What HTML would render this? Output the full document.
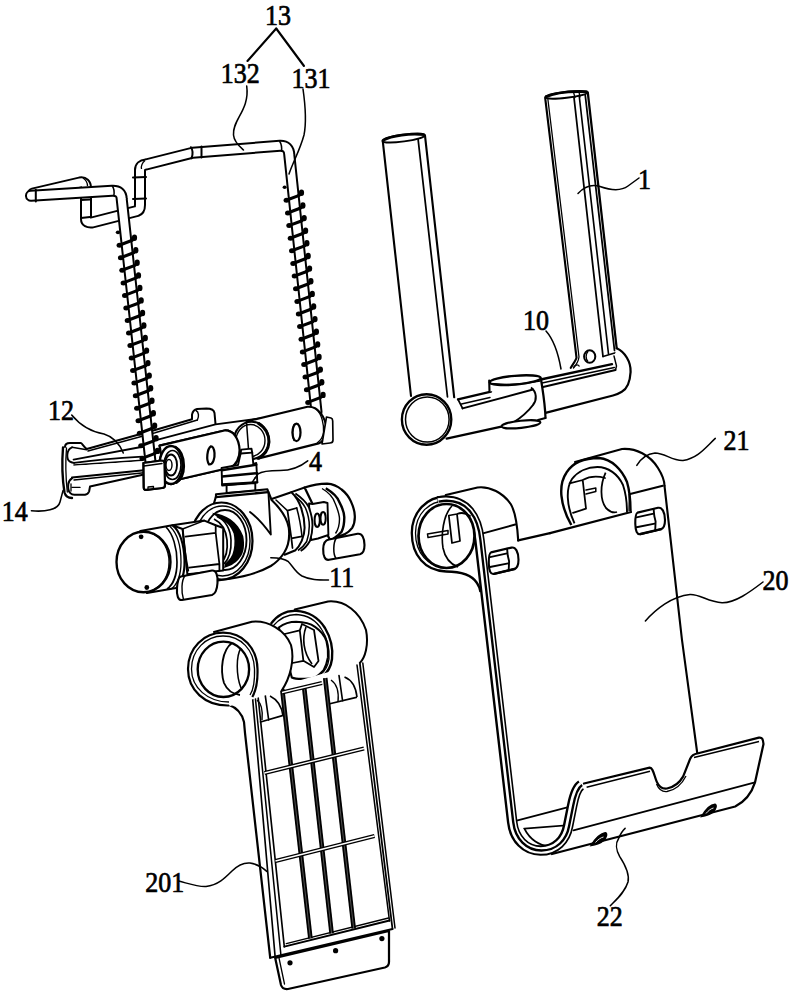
<!DOCTYPE html>
<html><head><meta charset="utf-8"><style>
html,body{margin:0;padding:0;background:#fff;width:795px;height:1000px;overflow:hidden}
svg{display:block}
</style></head><body>
<svg width="795" height="1000" viewBox="0 0 795 1000">
<rect width="795" height="1000" fill="#fff"/>
<path d="M64 446 L70 443 L80.7 443 L86.7 449 L155 430 L192 419.2 L192 414.6 C193 410 195 409.3 197 409 L206.4 408.6 C211 408.6 214 410 214.5 413 L215.5 424 L260 418.4 L262 424 L165 450 L73 462 L66 456 Z" fill="#fff" stroke="none"/>
<path d="M65 447 C65 444 67 443 70 443 L80.7 443 C82 443 83 446 86.7 449 L155 430 L192 419.2 L192 414.6 C193 410 195 409.3 197 409 L206.4 408.6 C211 408.6 214 410 214.5 413 L215.5 424" fill="none" stroke="#000" stroke-width="2.01" stroke-linecap="round" stroke-linejoin="round" />
<path d="M88 451 L155.1 432.7 L197.4 420" fill="none" stroke="#000" stroke-width="1.42" stroke-linecap="round" stroke-linejoin="round" />
<path d="M155.1 440.3 L215.5 424.4 L260 418.4" fill="none" stroke="#000" stroke-width="1.89" stroke-linecap="round" stroke-linejoin="round" />
<path d="M196 410.5 C199 412 199 417 197.4 420" fill="none" stroke="#000" stroke-width="1.42" stroke-linecap="round" stroke-linejoin="round" />
<path d="M72 447.3 C69 448.5 67.5 451 67.3 455 C67.2 458.5 68 460.5 70 461.6 C71.5 462.5 72.5 462.9 74 462.9" fill="none" stroke="#000" stroke-width="1.89" stroke-linecap="round" stroke-linejoin="round" />
<path d="M72 447.3 L86.7 449.8" fill="none" stroke="#000" stroke-width="1.42" stroke-linecap="round" stroke-linejoin="round" />
<path d="M73.6 459.6 L142.5 446.8" fill="none" stroke="#000" stroke-width="1.89" stroke-linecap="round" stroke-linejoin="round" />
<path d="M74 462.9 C95 460 120 458 142.5 456.6" fill="none" stroke="#000" stroke-width="1.89" stroke-linecap="round" stroke-linejoin="round" />
<path d="M74 465 L142.5 460.4" fill="none" stroke="#000" stroke-width="1.65" stroke-linecap="round" stroke-linejoin="round" />
<path d="M62 466 L72 466 L144 461 L144 474 L98 488 L90 495 L72 498 C66 497 64 494 64 490 Z" fill="#fff" stroke="none"/>
<path d="M63 447.5 C62 460 62.5 480 64.5 492.5 C65.5 496 68 498 72 498" fill="none" stroke="#000" stroke-width="2.36" stroke-linecap="round" stroke-linejoin="round" />
<path d="M66.5 448 C65.5 460 66 480 67.3 492" fill="none" stroke="#000" stroke-width="1.3" stroke-linecap="round" stroke-linejoin="round" />
<path d="M72 477.6 L144 470.2" fill="none" stroke="#000" stroke-width="2.01" stroke-linecap="round" stroke-linejoin="round" />
<path d="M74 480 L144 472.8" fill="none" stroke="#000" stroke-width="1.42" stroke-linecap="round" stroke-linejoin="round" />
<path d="M72 478.4 C70 479.5 68.7 481.7 68.3 484 C67.8 488 68.5 491.5 70.3 493.1 C71.5 494.3 73 494.8 74.4 494.8 L85 494.8 C87 494.5 88.5 493 89.1 491.5 L90 486.6 L144 474.5" fill="none" stroke="#000" stroke-width="2.01" stroke-linecap="round" stroke-linejoin="round" />
<path d="M72 487.4 L80 487.4" fill="none" stroke="#000" stroke-width="1.42" stroke-linecap="round" stroke-linejoin="round" />
<path d="M71 484 L71 491" fill="none" stroke="#000" stroke-width="1.3" stroke-linecap="round" stroke-linejoin="round" />
<path d="M33 193.5 L80 182.5 Q86 181.5 86 188 L86 219 Q86 223 92 222.5 L137 211 Q140 210 140 205 L140 170 Q140 165 146 164.5 L192.7 152.7 L280 145.8 Q289 145.5 289.3 155 L316.5 412" fill="none" stroke="#000" stroke-width="12.0" stroke-linecap="round" stroke-linejoin="round"/>
<path d="M33 193.5 L80 182.5 Q86 181.5 86 188 L86 219 Q86 223 92 222.5 L137 211 Q140 210 140 205 L140 170 Q140 165 146 164.5 L192.7 152.7 L280 145.8 Q289 145.5 289.3 155 L316.5 412" fill="none" stroke="#fff" stroke-width="8.0" stroke-linecap="round" stroke-linejoin="round"/>
<path d="M191 147.2 Q194 152 191.5 158.3" fill="none" stroke="#000" stroke-width="2.01" stroke-linecap="round" stroke-linejoin="round" />
<path d="M201.5 146.5 L201.5 157.5" fill="none" stroke="#000" stroke-width="2.01" stroke-linecap="round" stroke-linejoin="round" />
<path d="M133 177.5 L146 177" fill="none" stroke="#000" stroke-width="2.01" stroke-linecap="round" stroke-linejoin="round" />
<path d="M133 199 L146 198.5" fill="none" stroke="#000" stroke-width="2.01" stroke-linecap="round" stroke-linejoin="round" />
<path d="M81 200 L90 199.5" fill="none" stroke="#000" stroke-width="2.01" stroke-linecap="round" stroke-linejoin="round" />
<path d="M81 218 L90 217" fill="none" stroke="#000" stroke-width="2.01" stroke-linecap="round" stroke-linejoin="round" />
<path d="M31 195.8 L112 190.8 Q121.5 190.3 121.7 199 L150.5 462" fill="none" stroke="#000" stroke-width="12.0" stroke-linecap="round" stroke-linejoin="round"/>
<path d="M31 195.8 L112 190.8 Q121.5 190.3 121.7 199 L150.5 462" fill="none" stroke="#fff" stroke-width="8.0" stroke-linecap="round" stroke-linejoin="round"/>
<path d="M35.8 189.8 L35.8 201.6" fill="none" stroke="#000" stroke-width="2.01" stroke-linecap="round" stroke-linejoin="round" />
<path d="M279.5 141 C281.5 144 282 148 281.5 152" fill="none" stroke="#000" stroke-width="1.53"/>
<path d="M112 185.5 C114 188 114.5 192 113.8 196" fill="none" stroke="#000" stroke-width="1.53"/>
<path d="M145 160.5 C142 163 141 166 141.5 169" fill="none" stroke="#000" stroke-width="1.3"/>
<path d="M83 178 C86 180 87.5 183 87.5 186" fill="none" stroke="#000" stroke-width="1.3"/>
<path d="M159.6 445.6 L224.5 430.5 C233 430 239 438 239.6 450 C239.8 458 236 465 230.6 467.5 L165.7 482.5 Z" fill="#fff" stroke="#000" stroke-width="2.24" stroke-linejoin="round"/>
<path d="M211 446.3 C207 449 206 460 209 464.4 C213 465 215 458 214.5 453 C214 448 213 446.3 211 446.3 Z" fill="#fff" stroke="#000" stroke-width="2.24"/>
<ellipse cx="171" cy="465" rx="11.5" ry="19" fill="#fff" stroke="#000" stroke-width="2.36"/>
<ellipse cx="172.5" cy="465" rx="8.5" ry="14.5" fill="none" stroke="#000" stroke-width="1.65"/>
<ellipse cx="171" cy="465" rx="6" ry="10.5" fill="none" stroke="#000" stroke-width="1.89"/>
<ellipse cx="169" cy="465" rx="3" ry="5.5" fill="none" stroke="#000" stroke-width="1.42"/>
<path d="M175 446.5 C181 450 184 458 184 466 C184 474 181 480 176 483" fill="none" stroke="#000" stroke-width="2.2"/>
<path d="M119.2 245.2 L132.3 240.3" stroke="#000" stroke-width="3.1" stroke-linecap="round"/>
<ellipse cx="119.5" cy="245.2" rx="2.9" ry="2.5" fill="#000"/>
<ellipse cx="134.5" cy="237.8" rx="2.6" ry="3.2" fill="#000"/>
<path d="M131.3 240.3 L134.4 238.8" stroke="#000" stroke-width="2.6" stroke-linecap="round"/>
<path d="M120.5 257.8 L133.6 252.8" stroke="#000" stroke-width="3.1" stroke-linecap="round"/>
<ellipse cx="120.8" cy="257.8" rx="2.9" ry="2.5" fill="#000"/>
<ellipse cx="135.8" cy="250.3" rx="2.6" ry="3.2" fill="#000"/>
<path d="M132.6 252.8 L135.7 251.3" stroke="#000" stroke-width="2.6" stroke-linecap="round"/>
<path d="M121.9 270.3 L135.0 265.4" stroke="#000" stroke-width="3.1" stroke-linecap="round"/>
<ellipse cx="122.2" cy="270.3" rx="2.9" ry="2.5" fill="#000"/>
<ellipse cx="137.2" cy="262.8" rx="2.6" ry="3.2" fill="#000"/>
<path d="M134.0 265.4 L137.1 263.8" stroke="#000" stroke-width="2.6" stroke-linecap="round"/>
<path d="M123.2 282.9 L136.3 277.9" stroke="#000" stroke-width="3.1" stroke-linecap="round"/>
<ellipse cx="123.5" cy="282.9" rx="2.9" ry="2.5" fill="#000"/>
<ellipse cx="138.5" cy="275.4" rx="2.6" ry="3.2" fill="#000"/>
<path d="M135.3 277.9 L138.4 276.4" stroke="#000" stroke-width="2.6" stroke-linecap="round"/>
<path d="M124.6 295.4 L137.7 290.4" stroke="#000" stroke-width="3.1" stroke-linecap="round"/>
<ellipse cx="124.9" cy="295.4" rx="2.9" ry="2.5" fill="#000"/>
<ellipse cx="139.9" cy="287.9" rx="2.6" ry="3.2" fill="#000"/>
<path d="M136.7 290.4 L139.8 288.9" stroke="#000" stroke-width="2.6" stroke-linecap="round"/>
<path d="M125.9 307.9 L139.0 303.0" stroke="#000" stroke-width="3.1" stroke-linecap="round"/>
<ellipse cx="126.2" cy="307.9" rx="2.9" ry="2.5" fill="#000"/>
<ellipse cx="141.2" cy="300.4" rx="2.6" ry="3.2" fill="#000"/>
<path d="M138.0 303.0 L141.1 301.4" stroke="#000" stroke-width="2.6" stroke-linecap="round"/>
<path d="M127.3 320.5 L140.4 315.5" stroke="#000" stroke-width="3.1" stroke-linecap="round"/>
<ellipse cx="127.6" cy="320.5" rx="2.9" ry="2.5" fill="#000"/>
<ellipse cx="142.6" cy="313.0" rx="2.6" ry="3.2" fill="#000"/>
<path d="M139.4 315.5 L142.5 314.0" stroke="#000" stroke-width="2.6" stroke-linecap="round"/>
<path d="M128.6 333.0 L141.7 328.0" stroke="#000" stroke-width="3.1" stroke-linecap="round"/>
<ellipse cx="128.9" cy="333.0" rx="2.9" ry="2.5" fill="#000"/>
<ellipse cx="143.9" cy="325.5" rx="2.6" ry="3.2" fill="#000"/>
<path d="M140.7 328.0 L143.8 326.5" stroke="#000" stroke-width="2.6" stroke-linecap="round"/>
<path d="M130.0 345.5 L143.1 340.6" stroke="#000" stroke-width="3.1" stroke-linecap="round"/>
<ellipse cx="130.3" cy="345.5" rx="2.9" ry="2.5" fill="#000"/>
<ellipse cx="145.3" cy="338.0" rx="2.6" ry="3.2" fill="#000"/>
<path d="M142.1 340.6 L145.2 339.0" stroke="#000" stroke-width="2.6" stroke-linecap="round"/>
<path d="M131.3 358.1 L144.4 353.1" stroke="#000" stroke-width="3.1" stroke-linecap="round"/>
<ellipse cx="131.6" cy="358.1" rx="2.9" ry="2.5" fill="#000"/>
<ellipse cx="146.6" cy="350.6" rx="2.6" ry="3.2" fill="#000"/>
<path d="M143.4 353.1 L146.5 351.6" stroke="#000" stroke-width="2.6" stroke-linecap="round"/>
<path d="M132.7 370.6 L145.8 365.7" stroke="#000" stroke-width="3.1" stroke-linecap="round"/>
<ellipse cx="133.0" cy="370.6" rx="2.9" ry="2.5" fill="#000"/>
<ellipse cx="148.0" cy="363.1" rx="2.6" ry="3.2" fill="#000"/>
<path d="M144.8 365.7 L147.9 364.1" stroke="#000" stroke-width="2.6" stroke-linecap="round"/>
<path d="M134.0 383.1 L147.1 378.2" stroke="#000" stroke-width="3.1" stroke-linecap="round"/>
<ellipse cx="134.3" cy="383.1" rx="2.9" ry="2.5" fill="#000"/>
<ellipse cx="149.3" cy="375.6" rx="2.6" ry="3.2" fill="#000"/>
<path d="M146.1 378.2 L149.2 376.6" stroke="#000" stroke-width="2.6" stroke-linecap="round"/>
<path d="M135.4 395.7 L148.5 390.7" stroke="#000" stroke-width="3.1" stroke-linecap="round"/>
<ellipse cx="135.7" cy="395.7" rx="2.9" ry="2.5" fill="#000"/>
<ellipse cx="150.7" cy="388.2" rx="2.6" ry="3.2" fill="#000"/>
<path d="M147.5 390.7 L150.6 389.2" stroke="#000" stroke-width="2.6" stroke-linecap="round"/>
<path d="M136.7 408.2 L149.8 403.3" stroke="#000" stroke-width="3.1" stroke-linecap="round"/>
<ellipse cx="137.0" cy="408.2" rx="2.9" ry="2.5" fill="#000"/>
<ellipse cx="152.0" cy="400.7" rx="2.6" ry="3.2" fill="#000"/>
<path d="M148.8 403.3 L151.9 401.7" stroke="#000" stroke-width="2.6" stroke-linecap="round"/>
<path d="M138.1 420.7 L151.2 415.8" stroke="#000" stroke-width="3.1" stroke-linecap="round"/>
<ellipse cx="138.4" cy="420.7" rx="2.9" ry="2.5" fill="#000"/>
<ellipse cx="153.4" cy="413.2" rx="2.6" ry="3.2" fill="#000"/>
<path d="M150.2 415.8 L153.3 414.2" stroke="#000" stroke-width="2.6" stroke-linecap="round"/>
<path d="M139.4 433.3 L152.5 428.3" stroke="#000" stroke-width="3.1" stroke-linecap="round"/>
<ellipse cx="139.7" cy="433.3" rx="2.9" ry="2.5" fill="#000"/>
<ellipse cx="154.7" cy="425.8" rx="2.6" ry="3.2" fill="#000"/>
<path d="M151.5 428.3 L154.6 426.8" stroke="#000" stroke-width="2.6" stroke-linecap="round"/>
<path d="M140.8 445.8 L153.9 440.9" stroke="#000" stroke-width="3.1" stroke-linecap="round"/>
<ellipse cx="141.1" cy="445.8" rx="2.9" ry="2.5" fill="#000"/>
<ellipse cx="156.1" cy="438.3" rx="2.6" ry="3.2" fill="#000"/>
<path d="M152.9 440.9 L156.0 439.3" stroke="#000" stroke-width="2.6" stroke-linecap="round"/>
<path d="M142.1 458.4 L155.2 453.4" stroke="#000" stroke-width="3.1" stroke-linecap="round"/>
<ellipse cx="142.4" cy="458.4" rx="2.9" ry="2.5" fill="#000"/>
<ellipse cx="157.4" cy="450.9" rx="2.6" ry="3.2" fill="#000"/>
<path d="M154.2 453.4 L157.3 451.9" stroke="#000" stroke-width="2.6" stroke-linecap="round"/>
<ellipse cx="118" cy="232.3" rx="2.2" ry="1.9" fill="#000"/>
<path d="M143.5 463 L161.5 460.5 C163.5 460.5 164.5 461.5 164.5 463.5 L165 485 C165 487 164 488 162 488 L146 489.8 C144.5 490 143.8 489 143.8 487.5 Z" fill="#fff" stroke="#000" stroke-width="2.24" stroke-linejoin="round"/>
<path d="M144 466 L162 463.5" fill="none" stroke="#000" stroke-width="1.42" stroke-linecap="round" stroke-linejoin="round" />
<path d="M148 489.5 L148 487 L153.5 486.5 L153.5 489" fill="none" stroke="#000" stroke-width="1.3" stroke-linecap="round" stroke-linejoin="round" />
<path d="M286.2 200.3 L299.3 195.4" stroke="#000" stroke-width="3.1" stroke-linecap="round"/>
<ellipse cx="286.5" cy="200.3" rx="2.9" ry="2.5" fill="#000"/>
<ellipse cx="301.5" cy="192.8" rx="2.6" ry="3.2" fill="#000"/>
<path d="M298.3 195.4 L301.4 193.8" stroke="#000" stroke-width="2.6" stroke-linecap="round"/>
<path d="M287.6 213.0 L300.7 208.0" stroke="#000" stroke-width="3.1" stroke-linecap="round"/>
<ellipse cx="287.9" cy="213.0" rx="2.9" ry="2.5" fill="#000"/>
<ellipse cx="302.9" cy="205.5" rx="2.6" ry="3.2" fill="#000"/>
<path d="M299.7 208.0 L302.8 206.5" stroke="#000" stroke-width="2.6" stroke-linecap="round"/>
<path d="M288.9 225.6 L302.0 220.7" stroke="#000" stroke-width="3.1" stroke-linecap="round"/>
<ellipse cx="289.2" cy="225.6" rx="2.9" ry="2.5" fill="#000"/>
<ellipse cx="304.2" cy="218.1" rx="2.6" ry="3.2" fill="#000"/>
<path d="M301.0 220.7 L304.1 219.1" stroke="#000" stroke-width="2.6" stroke-linecap="round"/>
<path d="M290.2 238.2 L303.4 233.3" stroke="#000" stroke-width="3.1" stroke-linecap="round"/>
<ellipse cx="290.6" cy="238.2" rx="2.9" ry="2.5" fill="#000"/>
<ellipse cx="305.6" cy="230.7" rx="2.6" ry="3.2" fill="#000"/>
<path d="M302.4 233.3 L305.4 231.7" stroke="#000" stroke-width="2.6" stroke-linecap="round"/>
<path d="M291.6 250.8 L304.7 245.9" stroke="#000" stroke-width="3.1" stroke-linecap="round"/>
<ellipse cx="291.9" cy="250.8" rx="2.9" ry="2.5" fill="#000"/>
<ellipse cx="306.9" cy="243.3" rx="2.6" ry="3.2" fill="#000"/>
<path d="M303.7 245.9 L306.8 244.3" stroke="#000" stroke-width="2.6" stroke-linecap="round"/>
<path d="M292.9 263.5 L306.1 258.5" stroke="#000" stroke-width="3.1" stroke-linecap="round"/>
<ellipse cx="293.2" cy="263.5" rx="2.9" ry="2.5" fill="#000"/>
<ellipse cx="308.2" cy="256.0" rx="2.6" ry="3.2" fill="#000"/>
<path d="M305.1 258.5 L308.1 257.0" stroke="#000" stroke-width="2.6" stroke-linecap="round"/>
<path d="M294.3 276.1 L307.4 271.2" stroke="#000" stroke-width="3.1" stroke-linecap="round"/>
<ellipse cx="294.6" cy="276.1" rx="2.9" ry="2.5" fill="#000"/>
<ellipse cx="309.6" cy="268.6" rx="2.6" ry="3.2" fill="#000"/>
<path d="M306.4 271.2 L309.5 269.6" stroke="#000" stroke-width="2.6" stroke-linecap="round"/>
<path d="M295.6 288.7 L308.8 283.8" stroke="#000" stroke-width="3.1" stroke-linecap="round"/>
<ellipse cx="295.9" cy="288.7" rx="2.9" ry="2.5" fill="#000"/>
<ellipse cx="310.9" cy="281.2" rx="2.6" ry="3.2" fill="#000"/>
<path d="M307.8 283.8 L310.8 282.2" stroke="#000" stroke-width="2.6" stroke-linecap="round"/>
<path d="M297.0 301.4 L310.1 296.4" stroke="#000" stroke-width="3.1" stroke-linecap="round"/>
<ellipse cx="297.3" cy="301.4" rx="2.9" ry="2.5" fill="#000"/>
<ellipse cx="312.3" cy="293.9" rx="2.6" ry="3.2" fill="#000"/>
<path d="M309.1 296.4 L312.2 294.9" stroke="#000" stroke-width="2.6" stroke-linecap="round"/>
<path d="M298.4 314.0 L311.5 309.0" stroke="#000" stroke-width="3.1" stroke-linecap="round"/>
<ellipse cx="298.7" cy="314.0" rx="2.9" ry="2.5" fill="#000"/>
<ellipse cx="313.7" cy="306.5" rx="2.6" ry="3.2" fill="#000"/>
<path d="M310.5 309.0 L313.6 307.5" stroke="#000" stroke-width="2.6" stroke-linecap="round"/>
<path d="M299.7 326.6 L312.8 321.7" stroke="#000" stroke-width="3.1" stroke-linecap="round"/>
<ellipse cx="300.0" cy="326.6" rx="2.9" ry="2.5" fill="#000"/>
<ellipse cx="315.0" cy="319.1" rx="2.6" ry="3.2" fill="#000"/>
<path d="M311.8 321.7 L314.9 320.1" stroke="#000" stroke-width="2.6" stroke-linecap="round"/>
<path d="M301.1 339.2 L314.2 334.3" stroke="#000" stroke-width="3.1" stroke-linecap="round"/>
<ellipse cx="301.4" cy="339.2" rx="2.9" ry="2.5" fill="#000"/>
<ellipse cx="316.4" cy="331.7" rx="2.6" ry="3.2" fill="#000"/>
<path d="M313.2 334.3 L316.2 332.7" stroke="#000" stroke-width="2.6" stroke-linecap="round"/>
<path d="M302.4 351.9 L315.5 346.9" stroke="#000" stroke-width="3.1" stroke-linecap="round"/>
<ellipse cx="302.7" cy="351.9" rx="2.9" ry="2.5" fill="#000"/>
<ellipse cx="317.7" cy="344.4" rx="2.6" ry="3.2" fill="#000"/>
<path d="M314.5 346.9 L317.6 345.4" stroke="#000" stroke-width="2.6" stroke-linecap="round"/>
<path d="M303.8 364.5 L316.9 359.5" stroke="#000" stroke-width="3.1" stroke-linecap="round"/>
<ellipse cx="304.1" cy="364.5" rx="2.9" ry="2.5" fill="#000"/>
<ellipse cx="319.1" cy="357.0" rx="2.6" ry="3.2" fill="#000"/>
<path d="M315.9 359.5 L318.9 358.0" stroke="#000" stroke-width="2.6" stroke-linecap="round"/>
<path d="M305.1 377.1 L318.2 372.2" stroke="#000" stroke-width="3.1" stroke-linecap="round"/>
<ellipse cx="305.4" cy="377.1" rx="2.9" ry="2.5" fill="#000"/>
<ellipse cx="320.4" cy="369.6" rx="2.6" ry="3.2" fill="#000"/>
<path d="M317.2 372.2 L320.3 370.6" stroke="#000" stroke-width="2.6" stroke-linecap="round"/>
<path d="M306.4 389.7 L319.6 384.8" stroke="#000" stroke-width="3.1" stroke-linecap="round"/>
<ellipse cx="306.8" cy="389.7" rx="2.9" ry="2.5" fill="#000"/>
<ellipse cx="321.8" cy="382.2" rx="2.6" ry="3.2" fill="#000"/>
<path d="M318.6 384.8 L321.6 383.2" stroke="#000" stroke-width="2.6" stroke-linecap="round"/>
<path d="M307.8 402.4 L320.9 397.4" stroke="#000" stroke-width="3.1" stroke-linecap="round"/>
<ellipse cx="308.1" cy="402.4" rx="2.9" ry="2.5" fill="#000"/>
<ellipse cx="323.1" cy="394.9" rx="2.6" ry="3.2" fill="#000"/>
<path d="M319.9 397.4 L323.0 395.9" stroke="#000" stroke-width="2.6" stroke-linecap="round"/>
<ellipse cx="284.6" cy="187.3" rx="2.0" ry="1.8" fill="#000"/>
<path d="M246.6 421.3 L307.5 406.8 C318 406 325 416 326.9 429.6 C327 436 323 442 318.6 443.4 L257.7 458.6 Z" fill="#fff" stroke="#000" stroke-width="2.12" stroke-linejoin="round"/>
<path d="M326.5 417 L331 418 C332.5 418.5 332.7 420 332.7 421 L333 440 C333 442 331.5 443 330 443 L322 444 Z" fill="#fff" stroke="#000" stroke-width="1.65" stroke-linejoin="round"/>
<path d="M316 409 C322 414 324 425 323.5 432 C323 437 320 441 317 443" fill="none" stroke="#000" stroke-width="1.3"/>
<ellipse cx="296.5" cy="432.4" rx="4" ry="8.8" fill="#fff" stroke="#000" stroke-width="2.24"/>
<path d="M294 424.5 C292 429 292 436 294 440.5" fill="none" stroke="#000" stroke-width="1.42" stroke-linecap="round" stroke-linejoin="round" />
<ellipse cx="251.5" cy="440.3" rx="17.5" ry="18.6" fill="#fff" stroke="#000" stroke-width="2.12"/>
<path d="M258 423 C266 428 269 436 269 442 C268.5 449 265 455 258 458.6" fill="none" stroke="#000" stroke-width="3.0"/>
<ellipse cx="250.5" cy="440.5" rx="14.5" ry="16" fill="none" stroke="#000" stroke-width="1.42"/>
<path d="M246.6 423.5 L248.5 449" fill="none" stroke="#000" stroke-width="1.53" stroke-linecap="round" stroke-linejoin="round" />
<path d="M159.6 445.6 L224.5 430.5 C233 430 239 438 239.6 450 C239.8 458 236 465 230.6 467.5 L165.7 482.5 Z" fill="#fff" stroke="#000" stroke-width="2.24" stroke-linejoin="round"/>
<path d="M211 446.3 C207 449 206 460 209 464.4 C213 465 215 458 214.5 453 C214 448 213 446.3 211 446.3 Z" fill="#fff" stroke="#000" stroke-width="2.24"/>
<ellipse cx="171" cy="465" rx="11.5" ry="19" fill="#fff" stroke="#000" stroke-width="2.36"/>
<ellipse cx="172.5" cy="465" rx="8.5" ry="14.5" fill="none" stroke="#000" stroke-width="1.65"/>
<ellipse cx="171" cy="465" rx="6" ry="10.5" fill="none" stroke="#000" stroke-width="1.89"/>
<ellipse cx="169" cy="465" rx="3" ry="5.5" fill="none" stroke="#000" stroke-width="1.42"/>
<path d="M175 446.5 C181 450 184 458 184 466 C184 474 181 480 176 483" fill="none" stroke="#000" stroke-width="2.2"/>
<path d="M143.5 463 L161.5 460.5 C163.5 460.5 164.5 461.5 164.5 463.5 L165 485 C165 487 164 488 162 488 L146 489.8 C144.5 490 143.8 489 143.8 487.5 Z" fill="#fff" stroke="#000" stroke-width="2.24" stroke-linejoin="round"/>
<path d="M144 466 L162 463.5" fill="none" stroke="#000" stroke-width="1.42" stroke-linecap="round" stroke-linejoin="round" />
<path d="M148 489.5 L148 487 L153.5 486.5 L153.5 489" fill="none" stroke="#000" stroke-width="1.3" stroke-linecap="round" stroke-linejoin="round" />
<path d="M226.6 485 L255.3 483 L255.3 491 L226.6 493 Z" fill="#fff" stroke="#000" stroke-width="1.89" stroke-linejoin="round"/>
<path d="M241.2 449.6 L251.5 448.6 L252.3 453.5 L253.3 464.2 L256.3 463 L257.3 482.3 L222.1 485.5 L221.6 468 L238 465 L240.5 454 Z" fill="#fff" stroke="#000" stroke-width="1.89" stroke-linejoin="round"/>
<path d="M240.8 453.5 L252.3 452.6" fill="none" stroke="#000" stroke-width="1.89" stroke-linecap="round" stroke-linejoin="round" />
<path d="M221.6 470.2 L256.3 464.7" fill="none" stroke="#000" stroke-width="2.4" stroke-linecap="round" stroke-linejoin="round" />
<path d="M222.1 476.5 L257.3 473.2" fill="none" stroke="#000" stroke-width="2.4" stroke-linecap="round" stroke-linejoin="round" />
<path d="M222.1 484.3 L257.3 482.3" fill="none" stroke="#000" stroke-width="2.2" stroke-linecap="round" stroke-linejoin="round" />
<path d="M255 478 L252.5 482" fill="none" stroke="#000" stroke-width="1.42" stroke-linecap="round" stroke-linejoin="round" />
<path d="M304.6 487.5 C312 485 320 483.6 327.1 483.6 C334 484 338 486.5 341.6 489.5 C346 493 349 497 350.9 501.4 C353 506 354.8 511 354.8 516 C355 521 354 525 352.2 527.8 C350 531 347 533 344.3 534.4 L330 540 Z" fill="#fff" stroke="#000" stroke-width="2.24" stroke-linejoin="round"/>
<path d="M325.8 488.2 C332 492 337 496 339 501.4 C342 507 344.3 512 344.3 517.3 C344.3 523 343.5 528 341.6 531.8 C339 535 336 537 333.7 538.4" fill="none" stroke="#000" stroke-width="2.4"/>
<path d="M322 488.5 C328 492 333 497 335 503 C337.5 509 339.5 514 339.5 519 C339.5 525 338 530 335.5 533.5" fill="none" stroke="#000" stroke-width="1.42"/>
<path d="M309 503.5 L312.5 504 L323.8 502 L327.5 503 L328.4 535 L318 538.5 L311 540 Z" fill="#fff" stroke="#000" stroke-width="1.89" stroke-linejoin="round"/>
<ellipse cx="317.2" cy="520.2" rx="2.6" ry="6.7" fill="#fff" stroke="#000" stroke-width="2.01"/>
<ellipse cx="323.1" cy="518.3" rx="2.6" ry="6.4" fill="#fff" stroke="#000" stroke-width="2.01"/>
<path d="M288 494 L295.4 493.5 C303 498 308 504 308.6 506.7 C311 513 312.5 519 312.5 525.2 C312.5 531 311.5 536 309.9 541 C307 546 304 549 300.7 551 L292 553 Z" fill="#fff" stroke="none"/>
<path d="M295.4 493.5 C302 498 306.5 503 308.6 506.7 C311 513 312.5 519 312.5 525.2 C312.5 531 311.5 536 309.9 541 C307 546 304 549 300.7 551" fill="none" stroke="#000" stroke-width="1.89"/>
<path d="M292.5 494.5 C299 499 303.5 504 305.5 508 C308 514 309.3 520 309.3 526 C309.3 532 308.3 537 306.7 541.5 C304 546 301 548.5 298 550.5" fill="none" stroke="#000" stroke-width="1.53"/>
<path d="M291.4 492.2 L304.6 487.5" fill="none" stroke="#000" stroke-width="1.89" stroke-linecap="round" stroke-linejoin="round" />
<path d="M271.6 499 L291.4 492.2 C300 500 304.6 515 304.6 527.8 C304.6 537 300 546 295.4 550.3 L282 556 L286 528 Z" fill="#fff" stroke="none"/>
<path d="M271.6 499 L291.4 492.2 C300 500 304.6 515 304.6 527.8 C304.6 537 300 546 295.4 550.3 L284 555" fill="none" stroke="#000" stroke-width="2.01"/>
<path d="M287.5 510.7 L296.7 508 M291.4 538.4 L302 536.4 M287.5 510.7 L291.4 538.4 L292.5 548" fill="none" stroke="#000" stroke-width="1.77" stroke-linecap="round" stroke-linejoin="round" />
<path d="M296.7 508 C299 516 301 527 302 536.4" fill="none" stroke="#000" stroke-width="1.53" stroke-linecap="round" stroke-linejoin="round" />
<path d="M276 500 L287.5 510.7" fill="none" stroke="#000" stroke-width="1.53" stroke-linecap="round" stroke-linejoin="round" />
<path d="M329 539.5 L357.5 533.8 C362 533 364.5 538 364.5 545 C364.5 550 363 553.5 360 554.2 L329 559.8 C325 560.5 323 556 323.2 549 C323.4 543 325.5 540 329 539.5 Z" fill="#fff" stroke="#000" stroke-width="2.12" stroke-linejoin="round"/>
<path d="M336.3 538 C333 543 333 554 336 558.5" fill="none" stroke="#000" stroke-width="1.53"/>
<path d="M216 496.2 L216 494.3 L267.4 489.3 L268.4 492 L271.6 500 C280 508 287 518 288.8 527.8 C290 538 288 547 284 553 C280 559 274 564 270.8 566 C262 571 248 576 230 578.7 L214 581 L200 550 L214 503.2 Z" fill="#fff" stroke="#000" stroke-width="2.12" stroke-linejoin="round"/>
<path d="M216 497.2 L268 492.2" fill="none" stroke="#000" stroke-width="2.36" stroke-linecap="round" stroke-linejoin="round" />
<path d="M268.4 492 L270.8 534.5 M250 512 C258 518 264 525 270.8 534.5" fill="none" stroke="#000" stroke-width="1.89" stroke-linecap="round" stroke-linejoin="round" />
<ellipse cx="221.5" cy="541" rx="31" ry="38.5" fill="#fff" stroke="#000" stroke-width="2.24"/>
<ellipse cx="222.5" cy="541" rx="27.5" ry="35" fill="none" stroke="#000" stroke-width="1.42"/>
<ellipse cx="225" cy="540" rx="21.5" ry="30" fill="#fff" stroke="#000" stroke-width="1.89"/>
<path d="M212 512.8 C226 514 238 522 243.2 536 C245 545 244 553 240 557.6 C237 562 232 566 224 568 L225 563.5 C229.5 560 232.5 556 233.6 550 C235 544 234.5 538 233.6 533.6 C231 526 226 521 219 518.4 Z" fill="#000"/>
<path d="M214 519 C222 523 226 530 227 540 C228 550 226 558 221 563" fill="none" stroke="#000" stroke-width="1.77"/>
<path d="M217 516.5 C226 520 230.5 530 231 540 C231.5 551 229 559 224 564" fill="none" stroke="#000" stroke-width="1.65"/>
<path d="M172.3 525.3 L204.3 520.6 L215.7 525.3 L223.2 528 L223.2 570.6 L187.4 574.3 L182.6 529 Z" fill="#fff" stroke="#000" stroke-width="2.01" stroke-linejoin="round"/>
<path d="M185.5 536.6 L215.7 532.8 M189.2 567.7 L219.4 564 M215.7 525.3 L215.7 532.8 L219.4 564 L219.4 570.8" fill="none" stroke="#000" stroke-width="1.77" stroke-linecap="round" stroke-linejoin="round" />
<path d="M182.6 529 C184 545 186 560 188.3 570.6" fill="none" stroke="#000" stroke-width="1.77" stroke-linecap="round" stroke-linejoin="round" />
<path d="M204.3 520.6 L182.6 529" fill="none" stroke="#000" stroke-width="1.42" stroke-linecap="round" stroke-linejoin="round" />
<path d="M140.2 531 L172.3 525.3 C180 530 184 545 184.5 560 C185 574 181 584 176 588 L147 593 Z" fill="#fff" stroke="#000" stroke-width="2.12" stroke-linejoin="round"/>
<path d="M166 527 C173 534 177 548 177 562 C177 575 173 585 167 589" fill="none" stroke="#000" stroke-width="1.65"/>
<path d="M170 526.5 C178 534 181 548 181 562 C181 575 177 585 171 589" fill="none" stroke="#000" stroke-width="1.3"/>
<ellipse cx="143.5" cy="562" rx="27" ry="30.2" fill="#fff" stroke="#000" stroke-width="2.36"/>
<path d="M152 533.5 C163 538 169 550 169 562 C169 575 163 586 152 590.5" fill="none" stroke="#000" stroke-width="1.3"/>
<circle cx="141.1" cy="536.8" r="2.4" fill="#000"/>
<circle cx="146.8" cy="587.5" r="2.4" fill="#000"/>
<path d="M181 576.5 L212 570.5 C216 570 218 575 217.5 583 C217 590 215 594 212 595 L182 600 C178 600.5 176.5 595 177 588 C177.5 581 178.5 577 181 576.5 Z" fill="#fff" stroke="#000" stroke-width="2.12" stroke-linejoin="round"/>
<path d="M185 575.8 C181.5 580 181 592 183.5 599.5" fill="none" stroke="#000" stroke-width="1.42"/>
<path d="M382.8 141.3 L411 398 L456 398 L425 135.7 Z" fill="#fff" stroke="none"/>
<path d="M382.8 141.3 L411 396" fill="none" stroke="#000" stroke-width="2.12" stroke-linecap="round" stroke-linejoin="round" />
<path d="M425 135.7 L454.2 397.3" fill="none" stroke="#000" stroke-width="2.12" stroke-linecap="round" stroke-linejoin="round" />
<path d="M418 138.5 L447.5 397" fill="none" stroke="#000" stroke-width="1.77" stroke-linecap="round" stroke-linejoin="round" />
<ellipse cx="403.7" cy="138" rx="21.5" ry="3.4" transform="rotate(-7.5 403.7 138)" fill="#fff" stroke="#000" stroke-width="1.89"/>
<path d="M383 140.5 C392 135 410 133.5 424.5 134.7" fill="none" stroke="#000" stroke-width="2.6"/>
<path d="M545.2 98 L574.5 364 L617 352 L587.3 92.5 Z" fill="#fff" stroke="none"/>
<path d="M545.2 98 L576.5 357.7 C576 360 573 364 570.8 367.8" fill="none" stroke="#000" stroke-width="2.12" stroke-linecap="round" stroke-linejoin="round" />
<path d="M547.8 98.5 L579 357 C578.5 361 576 365 573.5 368" fill="none" stroke="#000" stroke-width="1.3" stroke-linecap="round" stroke-linejoin="round" />
<path d="M573.6 94 L603 356.5" fill="none" stroke="#000" stroke-width="1.77" stroke-linecap="round" stroke-linejoin="round" />
<path d="M579 94 L608.5 354" fill="none" stroke="#000" stroke-width="1.65" stroke-linecap="round" stroke-linejoin="round" />
<path d="M585 93 L614.5 350.5" fill="none" stroke="#000" stroke-width="1.77" stroke-linecap="round" stroke-linejoin="round" />
<path d="M587.8 92.5 L616.7 348.3" fill="none" stroke="#000" stroke-width="2.24" stroke-linecap="round" stroke-linejoin="round" />
<path d="M603 356.5 L615.5 352.7" fill="none" stroke="#000" stroke-width="1.65" stroke-linecap="round" stroke-linejoin="round" />
<ellipse cx="566.3" cy="94.8" rx="21.3" ry="3" transform="rotate(-6.5 566.3 94.8)" fill="#fff" stroke="#000" stroke-width="1.89"/>
<path d="M545.5 97 C555 92.5 572 91 587.5 91.8" fill="none" stroke="#000" stroke-width="2.8"/>
<path d="M573.6 92.5 L575 97.5 M579 92 L580 97" fill="none" stroke="#000" stroke-width="1.3" stroke-linecap="round" stroke-linejoin="round" />
<path d="M431 395.5 L458 399.3 L612 364.2 L616.7 348.3 C625 352 631 362 630.6 372 C630 382 627 389 621.8 391.7 L446.6 438.6 Z" fill="#fff" stroke="none"/>
<path d="M616.7 348.3 C625 352 631 362 630.6 372 C630 382 627 389 621.8 391.7 C618 394 615 395 613 395.5 L545.5 412.8" fill="none" stroke="#000" stroke-width="2.24" stroke-linecap="round" stroke-linejoin="round" />
<path d="M501.4 426.7 L446.6 438.6" fill="none" stroke="#000" stroke-width="2.24" stroke-linecap="round" stroke-linejoin="round" />
<path d="M458 399.3 L491 391.6" fill="none" stroke="#000" stroke-width="2.4" stroke-linecap="round" stroke-linejoin="round" />
<path d="M540.7 379.5 L612 364.2" fill="none" stroke="#000" stroke-width="2.36" stroke-linecap="round" stroke-linejoin="round" />
<path d="M461.5 404 L490 397.5" fill="none" stroke="#000" stroke-width="1.53" stroke-linecap="round" stroke-linejoin="round" />
<path d="M542 383 L614.3 367.6" fill="none" stroke="#000" stroke-width="1.53" stroke-linecap="round" stroke-linejoin="round" />
<path d="M462.6 408.4 L533 389.5 M543 386.9 L615.5 370" fill="none" stroke="#000" stroke-width="2.01" stroke-linecap="round" stroke-linejoin="round" />
<path d="M458 399.3 L462.6 408.4" fill="none" stroke="#000" stroke-width="1.77" stroke-linecap="round" stroke-linejoin="round" />
<path d="M615.5 370 L616.5 366 L614 356" fill="none" stroke="#000" stroke-width="1.42" stroke-linecap="round" stroke-linejoin="round" />
<ellipse cx="589.7" cy="356.5" rx="5.6" ry="6.3" fill="#fff" stroke="#000" stroke-width="2.01"/>
<path d="M588 351.5 C585.5 354 585.5 359 588 361.5" fill="none" stroke="#000" stroke-width="1.3"/>
<path d="M573.5 367.5 C575 364.5 578 364 579.5 366.5" fill="none" stroke="#000" stroke-width="1.42"/>
<path d="M489 380 L489.5 391.6 L533 386 C537 394 536 402 529 411.6 C522 418 516 421 512.8 422.9 L520 428 L541 424 L545.5 418 C545 405 543 392 541 378 Z" fill="#fff" stroke="none"/>
<ellipse cx="515.2" cy="380.2" rx="25.6" ry="4.4" transform="rotate(-5 515.2 380.2)" fill="#fff" stroke="#000" stroke-width="2.36"/>
<path d="M490 383.5 C505 385 525 384 540 381" fill="none" stroke="#000" stroke-width="1.3" stroke-linecap="round" stroke-linejoin="round" />
<path d="M489.2 380.5 L489.5 391.5" fill="none" stroke="#000" stroke-width="2.12" stroke-linecap="round" stroke-linejoin="round" />
<path d="M541 379 C542.5 390 545 402 545.5 418" fill="none" stroke="#000" stroke-width="2.24" stroke-linecap="round" stroke-linejoin="round" />
<path d="M531 387.5 C537 392 537 400 533 405 C527 413 519 419 512.8 422.9" fill="none" stroke="#000" stroke-width="2.01"/>
<ellipse cx="521" cy="424.3" rx="19.5" ry="3.6" transform="rotate(-6 521 424.3)" fill="#fff" stroke="#000" stroke-width="2.12"/>
<path d="M538 420 L545.5 418" fill="none" stroke="#000" stroke-width="1.89" stroke-linecap="round" stroke-linejoin="round" />
<ellipse cx="426.6" cy="419.5" rx="24.7" ry="25.2" fill="#fff" stroke="#000" stroke-width="2.36"/>
<ellipse cx="427.3" cy="419.5" rx="21.8" ry="22.6" fill="none" stroke="#000" stroke-width="1.53"/>
<path d="M446 571.5 C462 571.5 472 575 477 583 C480 588 480.5 594 480.5 600 L487.5 640 L507.3 822 C510 840 522 852 540.8 855.7 C552 856 560 853 565 847 L746.6 804.5 C755 800 760 790 760 783 L762.4 741 C762 737 759 737 758.9 737.6 L697.3 753.5 L682 640 L664.5 485.8 L631 512 L571.3 525 L518.2 540.4 L480 545 Z" fill="#fff" stroke="none"/>
<path d="M664.5 485.8 L682 640 L697.3 753.5" fill="none" stroke="#000" stroke-width="2.12" stroke-linecap="round" stroke-linejoin="round" />
<path d="M575 462 L622 449 C636 448 650 455 658 468 C663 476 664.5 482 664.5 485.8 L630.1 494 L620 470 Z" fill="#fff"/>
<path d="M575 462 L622 449 C636 448 650 455 658 468 C663 476 664.5 482 664.5 485.8" fill="none" stroke="#000" stroke-width="2.12" stroke-linecap="round" stroke-linejoin="round" />
<path d="M630.1 494 L662.8 485.8" fill="none" stroke="#000" stroke-width="2.01" stroke-linecap="round" stroke-linejoin="round" />
<path d="M571.3 525 C560 505 558 485 566.4 472.7 C573 462 585 458 599 458 C612 459 622 470 627 482 C630 492 630.5 502 630.5 511" fill="#fff" stroke="#000" stroke-width="2.4"/>
<path d="M574.5 523.4 C566 505 566 488 572 479 C578 471 588 467 597.4 467 C608 467 618 474 623 485 C626 494 627 503 627 512" fill="#fff" stroke="#000" stroke-width="1.89"/>
<path d="M629 494 C629.5 500 628.8 506 629 511" fill="none" stroke="#000" stroke-width="1.18"/>
<path d="M550 533.2 L631 512" fill="none" stroke="#000" stroke-width="2.24" stroke-linecap="round" stroke-linejoin="round" />
<path d="M569.6 483.3 L582.7 480 L586 508.7 L573 512.8 M582.7 480 C590 476 598 476 605 478" fill="none" stroke="#000" stroke-width="1.77" stroke-linecap="round" stroke-linejoin="round" />
<path d="M586 490 L595.8 488 L595.8 491.5 L586 494" fill="none" stroke="#000" stroke-width="1.53" stroke-linecap="round" stroke-linejoin="round" />
<path d="M605.6 472.7 C600 485 600 500 606 508 C610 512 614 513 617 512" fill="none" stroke="#000" stroke-width="1.77"/>
<path d="M445.8 495 L477.5 487.5 C490 486 503 493 510.7 504 C515 511 517 520 518.2 540.4 L482 545 L470 510 Z" fill="#fff"/>
<path d="M445.8 495 L477.5 487.5 C490 486 503 493 510.7 504 C515 511 517 520 518.2 540.4" fill="none" stroke="#000" stroke-width="2.12" stroke-linecap="round" stroke-linejoin="round" />
<path d="M482 533.6 L515.2 524.5" fill="none" stroke="#000" stroke-width="2.01" stroke-linecap="round" stroke-linejoin="round" />
<path d="M518.2 540.4 L550 533.2" fill="none" stroke="#000" stroke-width="2.24" stroke-linecap="round" stroke-linejoin="round" />
<path d="M513.8 821.3 L570.2 806.6" fill="none" stroke="#000" stroke-width="1.77" stroke-linecap="round" stroke-linejoin="round" />
<path d="M524.4 828.7 L565.3 825.4 C563 835 558 843 549 845.9 C540 846 530 840 524.4 828.7 Z" fill="#fff" stroke="#000" stroke-width="1.77"/>
<path d="M584 783.5 L649.7 767.6 C653 767.5 654 775 656.7 781.6 C659 787 663 789 667 788.5 C675 787 680 782 683.2 776.4 L690.2 758.7 C692 755 694 754 697.3 753.5 L758.9 737.6 C762 737 763 739 763.5 744 L755 782.4 C752 792 746 801 735.2 806.5 L586.6 845 L556 853 C565 846 568 838 569 825 L573 805 C576 792 578 786 584 783.5 Z" fill="#fff" stroke="none"/>
<path d="M584 783.5 L649.7 767.6 C653 767.5 654 775 656.7 781.6 C659 787 663 789 667 788.5 C675 787 680 782 683.2 776.4 L690.2 758.7 C692 755 694 754 697.3 753.5 L758.9 737.6 C762 737 763 739 763.5 744 L755 782.4 C752 792 746 801 735.2 806.5 L586.6 845 L552 854" fill="none" stroke="#000" stroke-width="2.24" stroke-linecap="round" stroke-linejoin="round" />
<path d="M586.6 787.2 L650 771.2 M694 757.5 L759 741.5" fill="none" stroke="#000" stroke-width="1.42"/>
<path d="M656.5 784 C659 790 663 792 667 791.5 C676 790 682 784 686 776" fill="none" stroke="#000" stroke-width="1.3"/>
<path d="M573.5 830.3 L755 782.4" fill="none" stroke="#000" stroke-width="1.89" stroke-linecap="round" stroke-linejoin="round" />
<path d="M591 845.5 C595 838.5 601 833 605.5 832.6 C607.5 833 607 838 603 841 C600 843.5 595 845 591 845.5 Z" fill="#000" stroke="#000" stroke-width="1.42"/>
<path d="M595.5 842.5 C598 839.5 601 837.5 603.5 837" fill="none" stroke="#fff" stroke-width="0.9"/>
<path d="M701.5 816.5 C705.5 809.5 711 804.5 715 804.2 C717 804.6 716.5 809 713 812 C710 814.5 705.5 816 701.5 816.5 Z" fill="#000" stroke="#000" stroke-width="1.42"/>
<path d="M706 813.5 C708.5 810.5 711 808.5 713.5 808" fill="none" stroke="#fff" stroke-width="0.9"/>
<path d="M446 571.5 C425 571 411.8 555 411.8 533 C411.8 512 427 496.5 446 496.5" fill="#fff" stroke="#000" stroke-width="2.3"/>
<path d="M446 567.5 C428 567 415.5 553 415.5 533 C415.5 514 429 501 446 501" fill="none" stroke="#000" stroke-width="1.3"/>
<path d="M446 571.5 C462 571.5 472 575 477 583 C479 586 480 588 480.5 592" fill="none" stroke="#000" stroke-width="2.36"/>
<path d="M438 501.6 C442 501 444 500.8 446 500.8 C466 500.8 477.5 516 479.8 540 L512.6 822 C514.5 839 526 850.5 540.8 850.5 C556 850.5 566 840 568.5 826 L572.5 806 C575 793 577.5 787.5 581.5 785" fill="none" stroke="#000" stroke-width="10.6" transform="translate(-0.4,0)"/>
<path d="M438 501.6 C442 501 444 500.8 446 500.8 C466 500.8 477.5 516 479.8 540 L512.6 822 C514.5 839 526 850.5 540.8 850.5 C556 850.5 566 840 568.5 826 L572.5 806 C575 793 577.5 787.5 581.5 785" fill="none" stroke="#fff" stroke-width="6.6"/>
<path d="M438 501.6 C442 501 444 500.8 446 500.8 C466 500.8 477.5 516 479.8 540 L512.6 822 C514.5 839 526 850.5 540.8 850.5 C556 850.5 566 840 568.5 826 L572.5 806 C575 793 577.5 787.5 581.5 785" fill="none" stroke="#000" stroke-width="2.36" transform="translate(0.6,0)"/>
<ellipse cx="446.5" cy="536" rx="28" ry="32" fill="#fff" stroke="#000" stroke-width="2.7"/>
<path d="M452 506 C443 515 441 535 443 548 C445 558 450 564 458 567" fill="none" stroke="#000" stroke-width="1.65"/>
<path d="M448.8 515.5 L457 514 L460 541 L452 543 Z M457 514 C462 512 466 513 470 516" fill="none" stroke="#000" stroke-width="1.77" stroke-linecap="round" stroke-linejoin="round" />
<path d="M427.5 534 L448 530.5 L448 534 L428 537.5 Z" fill="none" stroke="#000" stroke-width="1.53" stroke-linecap="round" stroke-linejoin="round" />
<g transform="translate(0,0)">
<path d="M637.5 512.6 L658 507.8 C662 507 665 512 665 520 C665 526 663 528.5 661 529.2 L640 534.2 C637 534.5 635.5 531 635.3 524 C635.2 517 635.5 513.5 637.5 512.6 Z" fill="#fff" stroke="#000" stroke-width="2.12" stroke-linejoin="round"/>
<path d="M636.5 517.4 L653.6 513.6 M636.5 527.2 L654.7 523.6" fill="none" stroke="#000" stroke-width="1.89" stroke-linecap="round" stroke-linejoin="round" />
<path d="M653.6 509 L654.3 516 L655.6 521.5 L655.2 530.5" fill="none" stroke="#000" stroke-width="1.89" stroke-linecap="round" stroke-linejoin="round" />
<path d="M640.5 534 L661 529.2" fill="none" stroke="#000" stroke-width="2.4" stroke-linecap="round" stroke-linejoin="round" />
</g>
<g transform="translate(-146.5,39.8)">
<path d="M637.5 512.6 L658 507.8 C662 507 665 512 665 520 C665 526 663 528.5 661 529.2 L640 534.2 C637 534.5 635.5 531 635.3 524 C635.2 517 635.5 513.5 637.5 512.6 Z" fill="#fff" stroke="#000" stroke-width="2.12" stroke-linejoin="round"/>
<path d="M636.5 517.4 L653.6 513.6 M636.5 527.2 L654.7 523.6" fill="none" stroke="#000" stroke-width="1.89" stroke-linecap="round" stroke-linejoin="round" />
<path d="M653.6 509 L654.3 516 L655.6 521.5 L655.2 530.5" fill="none" stroke="#000" stroke-width="1.89" stroke-linecap="round" stroke-linejoin="round" />
<path d="M640.5 534 L661 529.2" fill="none" stroke="#000" stroke-width="2.4" stroke-linecap="round" stroke-linejoin="round" />
</g>
<path d="M294.7 609.5 L328 601.5 C345 600 360 612 366 630 C369 645 365 658 359.8 663 L322 677 L280 640 Z" fill="#fff" stroke="none"/>
<path d="M294.7 609.5 L328 601.5 C345 600 360 612 366 630 C369 645 365 658 359.8 663" fill="none" stroke="#000" stroke-width="2.01" stroke-linecap="round" stroke-linejoin="round" />
<path d="M270.8 623.9 C278 614 288 610.5 296.2 610.9 C308 611.5 318 617 325 628 C331 638 333 650 332 659 C331 667 327 673 322.2 676.7" fill="#fff" stroke="#000" stroke-width="2.36"/>
<path d="M273 626 C280 618 288 614.5 296.2 614.5 C307 615 316 620 322 630 C328 639 329.5 650 329 659 C328 666 325 671 321 674" fill="none" stroke="#000" stroke-width="1.3"/>
<path d="M278.8 627.5 C285 623 290 621.8 296.2 621.8 C305 622 311 624 315 626.8 C321 631 325 636 326.5 641.3 C328 647 328.5 652 328 657.2 C327 663 325.5 667 323.6 670.2 C320 674 318 676 315 677.5 C310 679 307 679 303.4 678.9 C298 679 294 678.5 291.8 677.5 Z" fill="#fff" stroke="#000" stroke-width="2.12"/>
<path d="M284.6 634 L299.8 630.4 L303.4 660.8 L292.5 663 M299.8 630.4 L302 624 L314 630 L318.5 661 L314 667 L303.4 660.8" fill="none" stroke="#000" stroke-width="1.77" stroke-linecap="round" stroke-linejoin="round" />
<path d="M306 627 C302 638 303 652 312 664" fill="none" stroke="#000" stroke-width="1.65"/>
<path d="M236 706 L252 694 L360 663 L393 928 L389 931 L389 964.8 C389 967 387 967 384.9 967.5 L286.3 989 C283 989 282 987 281 985 L270.2 957.7 L245 733 Z" fill="#fff" stroke="none"/>
<path d="M229 705 C238 708 242 714 244 722 L245 733 L270.2 957.7" fill="none" stroke="#000" stroke-width="2.24" stroke-linecap="round" stroke-linejoin="round" />
<path d="M252.3 694.7 L275.2 957.7" fill="none" stroke="#000" stroke-width="1.65" stroke-linecap="round" stroke-linejoin="round" />
<path d="M255 694.5 L281 956" fill="none" stroke="#000" stroke-width="1.53" stroke-linecap="round" stroke-linejoin="round" />
<path d="M257.8 694 L284.3 946.7" fill="none" stroke="#000" stroke-width="1.65" stroke-linecap="round" stroke-linejoin="round" />
<path d="M359.9 663.6 L392.5 929" fill="none" stroke="#000" stroke-width="1.77" stroke-linecap="round" stroke-linejoin="round" />
<path d="M357 665 L389.5 921" fill="none" stroke="#000" stroke-width="1.53" stroke-linecap="round" stroke-linejoin="round" />
<path d="M362.8 663 L395 928" fill="none" stroke="#000" stroke-width="1.53" stroke-linecap="round" stroke-linejoin="round" />
<path d="M270.2 957.7 L392.5 929" fill="none" stroke="#000" stroke-width="2.12" stroke-linecap="round" stroke-linejoin="round" />
<path d="M284.3 946.7 L389.5 920.5" fill="none" stroke="#000" stroke-width="1.89" stroke-linecap="round" stroke-linejoin="round" />
<path d="M286.3 943.6 L388.5 918" fill="none" stroke="#000" stroke-width="1.42" stroke-linecap="round" stroke-linejoin="round" />
<path d="M275.2 958 L281 985 C282 988 284 989.5 288 989 L384.9 967.5 C388 966.5 389 965 389 962 L389 931 Z" fill="#fff" stroke="#000" stroke-width="2.24" stroke-linejoin="round"/>
<path d="M279 958 L284.5 984" fill="none" stroke="#000" stroke-width="1.3" stroke-linecap="round" stroke-linejoin="round" />
<circle cx="290" cy="962.8" r="2.6" fill="#000"/>
<circle cx="335.6" cy="950.7" r="2.6" fill="#000"/>
<circle cx="381.9" cy="938.6" r="2.6" fill="#000"/>
<path d="M282.2 689 L310.4 938.6" stroke="#000" stroke-width="4.6"/>
<path d="M282.2 689 L310.4 938.6" stroke="#fff" stroke-width="0.7" stroke-opacity="0.45"/>
<path d="M304 686 L331.6 933.6" stroke="#000" stroke-width="4.6"/>
<path d="M304 686 L331.6 933.6" stroke="#fff" stroke-width="0.7" stroke-opacity="0.45"/>
<path d="M325.2 678 L353.7 928.5" stroke="#000" stroke-width="4.6"/>
<path d="M325.2 678 L353.7 928.5" stroke="#fff" stroke-width="0.7" stroke-opacity="0.45"/>
<path d="M264.5 773 L364 748.5" stroke="#000" stroke-width="4.2"/>
<path d="M264.5 773 L364 748.5" stroke="#fff" stroke-width="1.3"/>
<path d="M275.5 861 L374.5 836" stroke="#000" stroke-width="4.2"/>
<path d="M275.5 861 L374.5 836" stroke="#fff" stroke-width="1.3"/>
<path d="M282 692.5 L322 683" stroke="#000" stroke-width="4.2"/>
<path d="M282 692.5 L322 683" stroke="#fff" stroke-width="1.3"/>
<path d="M265 693.7 L268.7 720.2 M260.5 722 L282.4 715.6" fill="none" stroke="#000" stroke-width="1.65" stroke-linecap="round" stroke-linejoin="round" />
<path d="M270 696 C278 700 282 707 283 716" fill="none" stroke="#000" stroke-width="1.65"/>
<path d="M257 700 C262 704 263 710 262 720" fill="none" stroke="#000" stroke-width="1.42"/>
<path d="M339 675.5 L342.6 701 M329.8 703.8 L356.3 697.4" fill="none" stroke="#000" stroke-width="1.65" stroke-linecap="round" stroke-linejoin="round" />
<path d="M344.5 677 C352 680 356 688 357 697" fill="none" stroke="#000" stroke-width="1.65"/>
<path d="M331 680 C337 684 339 692 338 702" fill="none" stroke="#000" stroke-width="1.42"/>
<path d="M205 635 L251.9 621.7 C268 620 285 630 291 645 C295 660 290 678 281.7 690.5 L230 706 Z" fill="#fff" stroke="none"/>
<path d="M214 632 L251.9 621.7 C268 620 285 630 291 645 C295 660 290 678 281.7 690.5" fill="none" stroke="#000" stroke-width="2.01" stroke-linecap="round" stroke-linejoin="round" />
<path d="M229 705.5 C205 706 188 690 188 669 C188 648 204 632.7 223 632.7 C243 632.7 257 648 257.5 669 C258 686 254 694 252.3 697" fill="#fff" stroke="#000" stroke-width="2.2"/>
<path d="M229 702 C208 702 191.5 688 191.5 669 C191.5 650 206 636 223 636 C241 636 254 650 254.5 669 C255 684 252 692 250 695" fill="none" stroke="#000" stroke-width="1.3"/>
<ellipse cx="223.4" cy="669.3" rx="25.7" ry="27.7" fill="#fff" stroke="#000" stroke-width="2.36"/>
<path d="M232 643 C222 650 220 670 224 683 C227 690 232 694 240 695" fill="none" stroke="#000" stroke-width="1.89"/>
<path d="M241 648 C236 656 236 675 241 688" fill="none" stroke="#000" stroke-width="1.53"/>
<g font-family="Liberation Serif, serif" fill="#000" stroke="#000" stroke-width="0.65">
<text transform="translate(265,25.3) scale(1,1.14)" font-size="26">13</text>
<text transform="translate(220.8,83.3) scale(1,1.14)" font-size="26">132</text>
<text transform="translate(291.5,87.8) scale(1,1.14)" font-size="26">131</text>
<text transform="translate(638,189.3) scale(1,1.14)" font-size="26">1</text>
<text transform="translate(523,330) scale(1,1.14)" font-size="26">10</text>
<text transform="translate(48,419.6) scale(1,1.14)" font-size="26">12</text>
<text transform="translate(309,470.5) scale(1,1.14)" font-size="26">4</text>
<text transform="translate(1.8,521.3) scale(1,1.14)" font-size="26">14</text>
<text transform="translate(329.3,586.6) scale(1,1.14)" font-size="26">11</text>
<text transform="translate(723.5,450.2) scale(1,1.14)" font-size="26">21</text>
<text transform="translate(762.5,590.2) scale(1,1.14)" font-size="26">20</text>
<text transform="translate(145.3,892.2) scale(1,1.14)" font-size="26">201</text>
<text transform="translate(596.8,925.5) scale(1,1.14)" font-size="26">22</text>
</g>
<path d="M276.2 28.5 L247.5 61" fill="none" stroke="#000" stroke-width="2.12" stroke-linecap="round" stroke-linejoin="round" />
<path d="M276.2 28.5 L304 66" fill="none" stroke="#000" stroke-width="2.12" stroke-linecap="round" stroke-linejoin="round" />
<path d="M246.7 86 C250 110 232 120 233.5 135 C234 142 240 147 243.5 150" fill="none" stroke="#000" stroke-width="1.53" stroke-linecap="round" stroke-linejoin="round" />
<path d="M303 89 C306 110 306 125 304 135 C300 150 293 162 289 174" fill="none" stroke="#000" stroke-width="1.53" stroke-linecap="round" stroke-linejoin="round" />
<path d="M578 193.5 C585 186 592 184 600 186.5 C610 190 620 192 628 186 L639 178" fill="none" stroke="#000" stroke-width="1.53" stroke-linecap="round" stroke-linejoin="round" />
<path d="M546 331 C554 340 558 352 561 369" fill="none" stroke="#000" stroke-width="1.53" stroke-linecap="round" stroke-linejoin="round" />
<path d="M71.7 415 C80 425 92 432 104 434 C114 437 120 445 123.3 453" fill="none" stroke="#000" stroke-width="1.53" stroke-linecap="round" stroke-linejoin="round" />
<path d="M307.7 460.8 C300 467 292 470.5 280 470.5 C268 470.5 262 471 258 474 L254.8 478.4" fill="none" stroke="#000" stroke-width="1.53" stroke-linecap="round" stroke-linejoin="round" />
<path d="M31.4 510.8 C45 512 58 510 60 502 L63 490.6" fill="none" stroke="#000" stroke-width="1.53" stroke-linecap="round" stroke-linejoin="round" />
<path d="M328.5 580 C318 580 310 580 302 576 C295 572 292 565 288.4 561.7 C285 559 280 557.7 270.8 557.7" fill="none" stroke="#000" stroke-width="1.53" stroke-linecap="round" stroke-linejoin="round" />
<path d="M715.3 438.4 C705 448 698 458 683 460.5 C672 461 665 453 655 453 C645 454 640 460 636.8 465.4" fill="none" stroke="#000" stroke-width="1.53" stroke-linecap="round" stroke-linejoin="round" />
<path d="M763 582 C750 592 735 603 722 602.7 C708 602 700 594 690 594.5 C672 596 655 610 645.4 621" fill="none" stroke="#000" stroke-width="1.53" stroke-linecap="round" stroke-linejoin="round" />
<path d="M178.7 881 C190 884 198 887 206 886.5 C218 885 225 878 232 871 C238 865 244 862.5 250 863 C257 864 262 867 266.8 871.4" fill="none" stroke="#000" stroke-width="1.53" stroke-linecap="round" stroke-linejoin="round" />
<path d="M610.3 905.8 C617 899 625 892 628 882 C630 873 624 863 619.6 856.3 C616 850 615.5 843 618.5 838.7 C620 835 622 831 625.1 828.3" fill="none" stroke="#000" stroke-width="1.53" stroke-linecap="round" stroke-linejoin="round" />
</svg></body></html>
